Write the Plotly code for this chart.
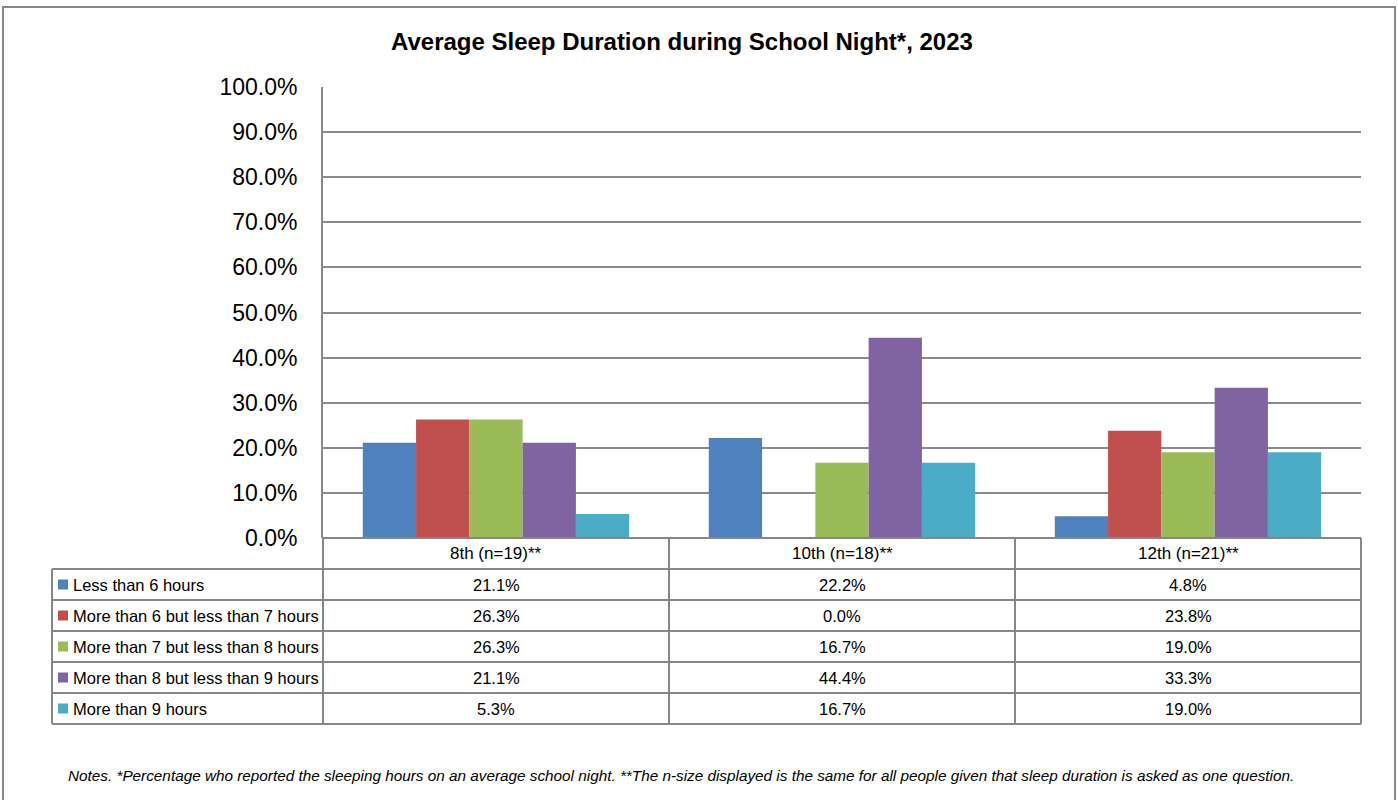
import plotly.graph_objects as go

# Canvas size in pixels
W, H = 1398, 800

# ---- Data -----------------------------------------------------------------
grades = ["8th (n=19)**", "10th (n=18)**", "12th (n=21)**"]
sleep_groups = [
    "Less than 6 hours",
    "More than 6 but less than 7 hours",
    "More than 7 but less than 8 hours",
    "More than 8 but less than 9 hours",
    "More than 9 hours",
]
less_than_6 = [21.1, 22.2, 4.8]
from_6_to_7 = [26.3, 0.0, 23.8]
from_7_to_8 = [26.3, 16.7, 19.0]
from_8_to_9 = [21.1, 44.4, 33.3]
more_than_9 = [5.3, 16.7, 19.0]
series_values = [less_than_6, from_6_to_7, from_7_to_8, from_8_to_9, more_than_9]
y_ticks = [0, 10, 20, 30, 40, 50, 60, 70, 80, 90, 100]
y_tick_labels = [f"{t:.1f}%" for t in y_ticks]

title_text = "Average Sleep Duration during School Night*, 2023"
notes_text = ("Notes. *Percentage who reported the sleeping hours on an average school night. "
              "**The n-size displayed is the same for all people given that sleep duration "
              "is asked as one question.")

# ---- Styling ----------------------------------------------------------------
colors = ["#4F81BD", "#C0504D", "#9BBB59", "#8064A2", "#4BACC6"]
GRID = "#8a8a8a"
BORDER = "#878787"
FONT = "Liberation Sans, Arial, sans-serif"

# Layout geometry (pixels)
PLOT_L, PLOT_R = 323, 1361
PLOT_T, PLOT_B = 87, 538
LEG_L = 52
ROW_H = 31


def px(x):
    return x / W


def py(y):
    return 1 - y / H


fig = go.Figure()
for name, vals, col in zip(sleep_groups, series_values, colors):
    fig.add_trace(go.Bar(
        x=grades,
        y=[v / 100 for v in vals],
        name=name,
        marker=dict(color=col, line=dict(width=0)),
        showlegend=False,
        hoverinfo="skip",
    ))

shapes = []
annotations = []

# Outer chart frame
shapes.append(dict(type="rect", xref="paper", yref="paper",
                   x0=px(3), x1=px(1395), y0=py(806), y1=py(7),
                   line=dict(color=BORDER, width=2), fillcolor="rgba(0,0,0,0)"))

# Data table grid
n_rows = len(sleep_groups)
header_top = PLOT_B
header_bot = PLOT_B + ROW_H
table_bot = header_bot + n_rows * ROW_H
col_w = (PLOT_R - PLOT_L) / len(grades)

# top line of the header row
shapes.append(dict(type="line", xref="paper", yref="paper",
                   x0=px(PLOT_L), x1=px(PLOT_R), y0=py(header_top), y1=py(header_top),
                   line=dict(color=BORDER, width=2)))
# horizontal lines of body rows (span legend column too)
for r in range(n_rows + 1):
    yy = header_bot + r * ROW_H
    shapes.append(dict(type="line", xref="paper", yref="paper",
                       x0=px(LEG_L), x1=px(PLOT_R), y0=py(yy), y1=py(yy),
                       line=dict(color=BORDER, width=2)))
# vertical lines
shapes.append(dict(type="line", xref="paper", yref="paper",
                   x0=px(LEG_L), x1=px(LEG_L), y0=py(header_bot), y1=py(table_bot),
                   line=dict(color=BORDER, width=2)))
for c in range(len(grades) + 1):
    xx = PLOT_L + c * col_w
    shapes.append(dict(type="line", xref="paper", yref="paper",
                       x0=px(xx), x1=px(xx), y0=py(header_top), y1=py(table_bot),
                       line=dict(color=BORDER, width=2)))

# Header labels
for g in grades:
    annotations.append(dict(x=g, xref="x", y=py(header_top + ROW_H / 2), yref="paper",
                            text=g, showarrow=False, xanchor="center", yanchor="middle",
                            font=dict(family=FONT, size=17, color="#000")))

# Row legend keys, labels and values
for r, (name, vals, col) in enumerate(zip(sleep_groups, series_values, colors)):
    yc = header_bot + r * ROW_H + ROW_H / 2
    shapes.append(dict(type="rect", xref="paper", yref="paper",
                       x0=px(58), x1=px(68), y0=py(yc + 5), y1=py(yc - 5),
                       fillcolor=col, line=dict(width=0)))
    annotations.append(dict(x=px(71), xref="paper", y=py(yc), yref="paper",
                            text=name, showarrow=False, xanchor="left", yanchor="middle",
                            font=dict(family=FONT, size=16.5, color="#000")))
    for g, v in zip(grades, vals):
        annotations.append(dict(x=g, xref="x", y=py(yc), yref="paper",
                                text=f"{v:.1f}%", showarrow=False,
                                xanchor="center", yanchor="middle",
                                font=dict(family=FONT, size=16.5, color="#000")))

# Title
annotations.append(dict(x=px(682), xref="paper", y=py(42), yref="paper",
                        text=f"<b>{title_text}</b>", showarrow=False,
                        xanchor="center", yanchor="middle",
                        font=dict(family=FONT, size=24, color="#000")))

# Footnote
annotations.append(dict(x=px(681), xref="paper", y=py(775), yref="paper",
                        text=f"<i>{notes_text}</i>", showarrow=False,
                        xanchor="center", yanchor="middle",
                        font=dict(family=FONT, size=15.3, color="#000")))

fig.update_layout(
    width=W, height=H,
    margin=dict(l=0, r=0, t=0, b=0, autoexpand=False),
    paper_bgcolor="white", plot_bgcolor="white",
    barmode="group", bargap=0.23, bargroupgap=0,
    xaxis=dict(domain=[px(PLOT_L), px(PLOT_R)], type="category",
               showticklabels=False, showgrid=False, zeroline=False,
               showline=False, fixedrange=True, automargin=False),
    yaxis=dict(domain=[py(PLOT_B), py(PLOT_T)], range=[0, 1],
               tickvals=[t / 100 for t in y_ticks], ticktext=y_tick_labels,
               showgrid=True, gridcolor=GRID, gridwidth=1.5,
               zeroline=False, showline=True, linecolor=GRID, linewidth=2,
               ticks="", ticklabelstandoff=19, automargin=False,
               tickfont=dict(family=FONT, size=23, color="#000"),
               fixedrange=True),
    shapes=shapes,
    annotations=annotations,
)

fig.write_html("out.html")
